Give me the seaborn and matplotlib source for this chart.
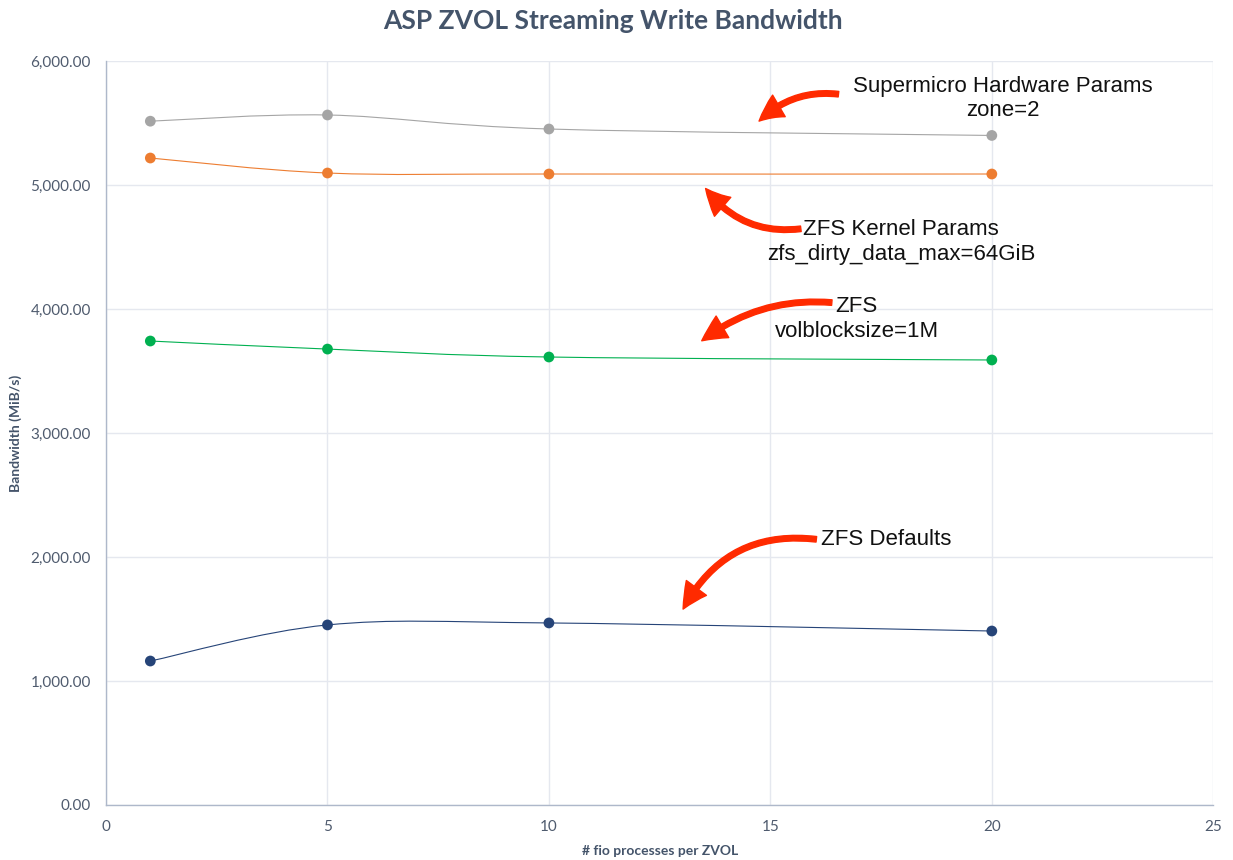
import numpy as np
import pandas as pd
import seaborn as sns
import matplotlib.pyplot as plt
from matplotlib.path import Path
from matplotlib.patches import PathPatch
from matplotlib.ticker import FuncFormatter

# Data
processes = [1, 5, 10, 20]
supermicro = [5515, 5565, 5452, 5400]
kernel_params = [5218, 5097, 5089, 5089]
volblocksize = [3742, 3677, 3613, 3589]
defaults = [1161, 1452, 1468, 1403]

series_names = ['Supermicro', 'Kernel', 'Volblock', 'Defaults']
series_colors = ['#A5A5A5', '#ED7D31', '#00B050', '#264478']

df = pd.DataFrame({
    'procs': processes * 4,
    'bw': supermicro + kernel_params + volblocksize + defaults,
    'series': sum([[n] * len(processes) for n in series_names], []),
})

sns.set_theme(style='white')
plt.rcParams['font.family'] = ['Lato', 'DejaVu Sans']

fig, ax = plt.subplots(figsize=(12.33, 8.6), dpi=100)
fig.subplots_adjust(left=0.086, right=0.984, top=0.929, bottom=0.064)


def smooth_path(xs, ys):
    # Excel style smoothed line: bezier segments through the points
    pts = np.column_stack([xs, ys]).astype(float)
    verts = [pts[0]]
    codes = [Path.MOVETO]
    n = len(pts)
    for i in range(n - 1):
        p0 = pts[i - 1] if i > 0 else pts[i]
        p1 = pts[i]
        p2 = pts[i + 1]
        p3 = pts[i + 2] if i + 2 < n else pts[i + 1]
        c1 = p1 + (p2 - p0) / 6.0
        c2 = p2 - (p3 - p1) / 6.0
        verts += [c1, c2, p2]
        codes += [Path.CURVE4] * 3
    return Path(verts, codes)


for name, color in zip(series_names, series_colors):
    sub = df[df.series == name]
    ax.add_patch(PathPatch(smooth_path(sub.procs, sub.bw), facecolor='none',
                           edgecolor=color, lw=0.8, zorder=2))

sns.scatterplot(data=df, x='procs', y='bw', hue='series', palette=series_colors,
                s=60, edgecolor='none', legend=False, ax=ax, zorder=3)

ax.set_xlim(0, 25)
ax.set_ylim(0, 6000)
ax.set_xticks(range(0, 26, 5))
ax.set_yticks(range(0, 6001, 1000))
ax.yaxis.set_major_formatter(FuncFormatter(lambda v, p: '{:,.2f}'.format(v)))
ax.grid(True, color='#E5E8EF', lw=1)
ax.set_axisbelow(True)
for s in ['top', 'right']:
    ax.spines[s].set_visible(False)
for s in ['left', 'bottom']:
    ax.spines[s].set_color('#AEB8CA')
    ax.spines[s].set_linewidth(1)
ax.tick_params(axis='x', length=0, labelsize=11, labelcolor='#4F5B6E', pad=11)
ax.tick_params(axis='y', length=0, labelsize=11, labelcolor='#4F5B6E', pad=11)

ax.set_xlabel('# fio processes per ZVOL', fontsize=10, fontweight='bold', color='#44546A', labelpad=8)
ax.set_ylabel('Bandwidth (MiB/s)', fontsize=10, fontweight='bold', color='#44546A', labelpad=6)
fig.suptitle('ASP ZVOL Streaming Write Bandwidth', fontsize=19, fontweight='bold',
             color='#44546A', x=0.497, y=0.99, va='top')

# Callouts
red = '#FF2A00'
arrow_style = 'simple,tail_width=0.2,head_width=0.9,head_length=0.9'
note_font = dict(fontsize=16, family='Liberation Sans', color='#111111')

ax.text(20.25, 5700, 'Supermicro Hardware Params\nzone=2', ha='center', va='center',
        linespacing=1.2, **note_font)
ax.annotate('', xy=(14.7, 5500), xytext=(16.6, 5730),
            arrowprops=dict(arrowstyle=arrow_style, connectionstyle='arc3,rad=0.25',
                            color=red, mutation_scale=20))

ax.text(17.95, 4540, 'ZFS Kernel Params\nzfs_dirty_data_max=64GiB', ha='center', va='center',
        linespacing=1.2, **note_font)
ax.annotate('', xy=(13.5, 4990), xytext=(15.75, 4650),
            arrowprops=dict(arrowstyle=arrow_style, connectionstyle='arc3,rad=-0.3',
                            color=red, mutation_scale=20))

ax.text(16.95, 3920, 'ZFS\nvolblocksize=1M', ha='center', va='center',
        linespacing=1.2, **note_font)
ax.annotate('', xy=(13.4, 3730), xytext=(16.45, 4050),
            arrowprops=dict(arrowstyle=arrow_style, connectionstyle='arc3,rad=0.2',
                            color=red, mutation_scale=20))

ax.text(16.15, 2140, 'ZFS Defaults', ha='left', va='center', **note_font)
ax.annotate('', xy=(13.0, 1560), xytext=(16.1, 2140),
            arrowprops=dict(arrowstyle=arrow_style, connectionstyle='arc3,rad=0.35',
                            color=red, mutation_scale=20))

fig.savefig('out.png', dpi=100)
